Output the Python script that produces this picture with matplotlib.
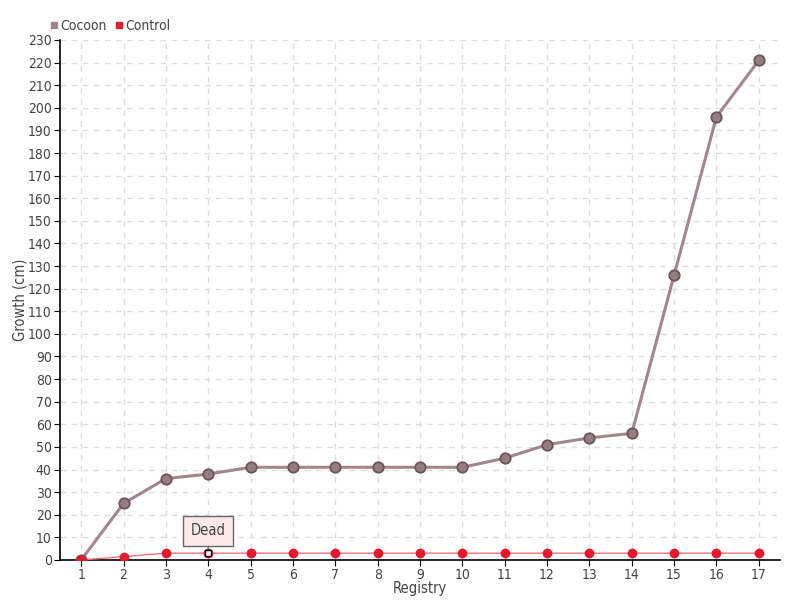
import matplotlib
matplotlib.use("Agg")
import matplotlib.pyplot as plt
import numpy as np

registry = list(range(1, 18))
cocoon = [0, 25, 36, 38, 41, 41, 41, 41, 41, 41, 45, 51, 54, 56, 126, 196, 221]
control = [0, 1.5, 3, 3, 3, 3, 3, 3, 3, 3, 3, 3, 3, 3, 3, 3, 3]
dead_idx = 3
yticks = list(range(0, 231, 10))

plt.rcParams['font.family'] = ['DejaVu Sans']
plt.rcParams['font.stretch'] = 'condensed'

fig = plt.figure(figsize=(8, 6), dpi=100)
ax = fig.add_axes([0.075, 0.0667, 0.90, 0.8667])

ax.plot(registry, cocoon, color='#a3868b', lw=2.2, zorder=3)
ax.plot(registry, cocoon, 'o', ms=7.5, mfc='#957d83', mec='#6e5459', mew=1.3, zorder=4, label='Cocoon')
ax.plot(registry, control, color='#f0707c', lw=1.0, zorder=3)
ax.plot(registry, control, 'o', ms=6, mfc='#e8182b', mec='#e8182b', zorder=4, label='Control')
ax.plot(registry[dead_idx], control[dead_idx], 's', ms=4, mfc='white', mec='black', mew=1, zorder=5)

ax.annotate('Dead', xy=(registry[dead_idx], control[dead_idx]), xytext=(0, 16),
            textcoords='offset points', ha='center', va='center', fontsize=10.5, color='#444444',
            bbox=dict(boxstyle='square,pad=0.5', fc='#fde9ea', ec='#666666', lw=1),
            arrowprops=dict(arrowstyle='-', color='#666666', lw=1, shrinkA=0, shrinkB=3),
            zorder=6)

ax.set_xlim(0.5, 17.5)
ax.set_ylim(0, 230)
ax.set_xticks(registry)
ax.set_yticks(yticks)
ax.tick_params(labelsize=10, colors='#444444', length=4, pad=2)
ax.tick_params(axis='both', color='black')
ax.grid(True, ls=(0, (4, 4)), color='#dddddd', lw=1)
ax.set_axisbelow(True)
for s in ['top', 'right']:
    ax.spines[s].set_visible(False)
ax.spines['left'].set_linewidth(1.2)
ax.spines['bottom'].set_linewidth(1.2)

ax.set_xlabel('Registry', fontsize=10.5, color='#444444', labelpad=-1)
ax.set_ylabel('Growth (cm)', fontsize=10.5, color='#444444', labelpad=0)

handles = [plt.Line2D([], [], marker='s', ls='', ms=5, color='#a3868b'),
           plt.Line2D([], [], marker='s', ls='', ms=5, color='#e8182b')]
fig.legend(handles, ['Cocoon', 'Control'], loc='upper left', bbox_to_anchor=(0.045, 0.99),
           ncol=2, frameon=False, fontsize=10, handletextpad=0.05, columnspacing=0.5,
           handlelength=0.8, labelcolor='#444444')

fig.savefig('out.png', dpi=100)
